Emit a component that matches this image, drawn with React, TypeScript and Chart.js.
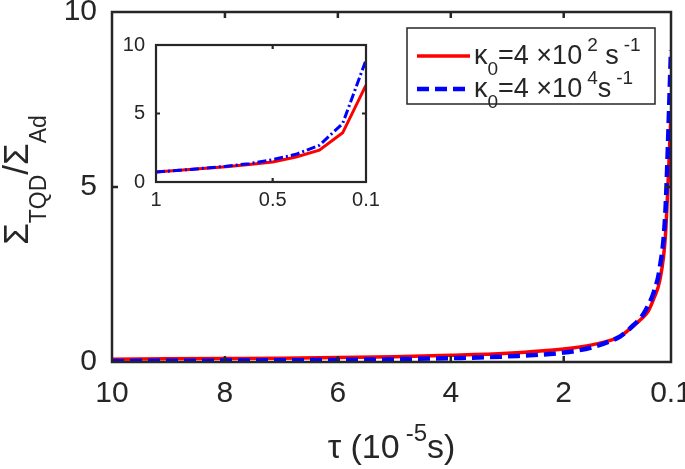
import React, { useEffect, useRef } from "react";
import { Chart, registerables } from "chart.js";

Chart.register(...registerables);

// ---- data ----
const tau = [10, 9, 8, 7, 6, 5, 4, 3, 2, 1.5, 1, 0.9, 0.8, 0.7, 0.6, 0.5, 0.4, 0.3, 0.2, 0.1];
const ratioKappa1e2 = [0.08, 0.09, 0.1, 0.11, 0.13, 0.15, 0.19, 0.25, 0.37, 0.49, 0.73, 0.85, 0.98, 1.12, 1.27, 1.46, 1.83, 2.32, 3.59, 7.07];
const ratioKappa1e4 = [0.03, 0.035, 0.04, 0.05, 0.06, 0.08, 0.11, 0.16, 0.27, 0.42, 0.73, 0.85, 1.0, 1.15, 1.34, 1.63, 2.02, 2.68, 4.27, 8.9];
const insetTauMax = 1;

const mainXTicks = [10, 8, 6, 4, 2, 0.1];
const mainYTicks = [0, 5, 10];
const insetXTicks = [1, 0.5, 0.1];
const insetYTicks = [0, 5, 10];

const seriesLabels = ["\u03ba_0=4 \u00d710^2 s^{-1}", "\u03ba_0=4 \u00d710^4s^{-1}"];
const xTitle = "\u03c4 (10^{-5}s)";
const yTitle = "\u03a3_{TQD}/\u03a3_{Ad}";

// ---- styles ----
const FAMILY = "'Liberation Sans', Arial, Helvetica, sans-serif";
const INK = "#262626";
const RED = "#ff0000";
const BLUE = "#0000ff";

type Seg = { t: string; kind: "n" | "sub" | "sup" };

function parseTex(s: string): Seg[] {
  const out: Seg[] = [];
  let buf = "";
  let i = 0;
  const flush = () => {
    if (buf) out.push({ t: buf, kind: "n" });
    buf = "";
  };
  while (i < s.length) {
    const c = s[i];
    if (c === "_" || c === "^") {
      flush();
      let t = "";
      if (s[i + 1] === "{") {
        const j = s.indexOf("}", i + 2);
        t = s.slice(i + 2, j);
        i = j + 1;
      } else {
        t = s[i + 1];
        i += 2;
      }
      out.push({ t, kind: c === "_" ? "sub" : "sup" });
    } else {
      buf += c;
      i++;
    }
  }
  flush();
  return out;
}

type RichStyle = { size: number; small: number; subDy: number; supDy: number; supGap: number };

function richWidth(ctx: CanvasRenderingContext2D, segs: Seg[], st: RichStyle) {
  let w = 0;
  for (const s of segs) {
    ctx.font = `${s.kind === "n" ? st.size : st.small}px ${FAMILY}`;
    w += ctx.measureText(s.t).width + (s.kind === "sup" ? st.supGap : 0);
  }
  return w;
}

function drawRich(ctx: CanvasRenderingContext2D, segs: Seg[], x: number, y: number, st: RichStyle) {
  let cx = x;
  ctx.textAlign = "left";
  ctx.textBaseline = "alphabetic";
  for (const s of segs) {
    ctx.font = `${s.kind === "n" ? st.size : st.small}px ${FAMILY}`;
    if (s.kind === "sup") cx += st.supGap;
    const dy = s.kind === "sub" ? st.subDy : s.kind === "sup" ? st.supDy : 0;
    ctx.fillText(s.t, cx, y + dy);
    cx += ctx.measureText(s.t).width;
  }
}

function framePlugin(id: string, lineWidth: number, tickLen: number) {
  return {
    id,
    afterDatasetsDraw(chart: any) {
      const { ctx, chartArea: a, scales } = chart;
      ctx.save();
      ctx.strokeStyle = INK;
      ctx.lineWidth = lineWidth;
      ctx.beginPath();
      const xs = scales.x;
      const ys = scales.y;
      for (const t of xs.ticks) {
        const px = xs.getPixelForValue(t.value);
        if (px <= a.left + 2 || px >= a.right - 2) continue;
        ctx.moveTo(px, a.bottom);
        ctx.lineTo(px, a.bottom - tickLen);
        ctx.moveTo(px, a.top);
        ctx.lineTo(px, a.top + tickLen);
      }
      for (const t of ys.ticks) {
        const py = ys.getPixelForValue(t.value);
        if (py <= a.top + 2 || py >= a.bottom - 2) continue;
        ctx.moveTo(a.left, py);
        ctx.lineTo(a.left + tickLen, py);
        ctx.moveTo(a.right, py);
        ctx.lineTo(a.right - tickLen, py);
      }
      ctx.stroke();
      ctx.strokeRect(a.left, a.top, a.right - a.left, a.bottom - a.top);
      ctx.restore();
    },
  };
}

const mainDecor = {
  id: "mainDecor",
  afterDraw(chart: any) {
    const { ctx, chartArea: a } = chart;
    ctx.save();
    ctx.fillStyle = INK;
    // x title
    const xs = parseTex(xTitle);
    const xst: RichStyle = { size: 34, small: 24, subDy: 8, supDy: -17, supGap: 6 };
    const xw = richWidth(ctx, xs, xst);
    drawRich(ctx, xs, (a.left + a.right) / 2 - xw / 2, 458, xst);
    // y title (rotated)
    const ysg = parseTex(yTitle);
    const yst: RichStyle = { size: 35, small: 23, subDy: 18, supDy: -14, supGap: 0 };
    const yw = richWidth(ctx, ysg, yst);
    ctx.save();
    ctx.translate(28, (a.top + a.bottom) / 2 - 7);
    ctx.rotate(-Math.PI / 2);
    drawRich(ctx, ysg, -yw / 2, 0, yst);
    ctx.restore();
    // legend
    const bx = 407, by = 28, bw = 248, bh = 76;
    ctx.fillStyle = "#ffffff";
    ctx.fillRect(bx, by, bw, bh);
    ctx.strokeStyle = INK;
    ctx.lineWidth = 1.5;
    ctx.strokeRect(bx, by, bw, bh);
    const rows = [56, 89];
    const lst: RichStyle = { size: 27, small: 19, subDy: 11, supDy: -13, supGap: 5 };
    [0, 1].forEach((di, r) => {
      const ds = chart.data.datasets[di];
      const y = rows[r];
      ctx.save();
      ctx.strokeStyle = ds.borderColor;
      ctx.lineWidth = ds.borderWidth;
      ctx.setLineDash(ds.borderDash || []);
      ctx.beginPath();
      ctx.moveTo(417, y);
      ctx.lineTo(470, y);
      ctx.stroke();
      ctx.restore();
      ctx.fillStyle = INK;
      drawRich(ctx, parseTex(ds.label), 474, y + 8, lst);
    });
    ctx.restore();
  },
};

function tickFmt(v: any) {
  return String(Number(v));
}

export default function App() {
  const mainRef = useRef<HTMLCanvasElement>(null);
  const insetRef = useRef<HTMLCanvasElement>(null);

  useEffect(() => {
    document.body.style.margin = "0";
    const mainData = {
      datasets: [
        {
          label: seriesLabels[0],
          data: tau.map((t, i) => ({ x: t, y: ratioKappa1e2[i] })),
          borderColor: RED,
          borderWidth: 3.5,
          borderDash: [] as number[],
          pointRadius: 0,
          cubicInterpolationMode: "monotone",
          order: 2,
        },
        {
          label: seriesLabels[1],
          data: tau.map((t, i) => ({ x: t, y: ratioKappa1e4[i] })),
          borderColor: BLUE,
          borderWidth: 4.5,
          borderDash: [12, 6],
          pointRadius: 0,
          cubicInterpolationMode: "monotone",
          order: 1,
        },
      ],
    };
    const tickFont = { family: FAMILY, size: 30 };
    const main = new Chart(mainRef.current!, {
      type: "line",
      data: mainData as any,
      options: {
        animation: false,
        responsive: false,
        devicePixelRatio: 1,
        layout: { padding: { top: 12, right: 14, left: 0, bottom: 0 } },
        plugins: { legend: { display: false }, tooltip: { enabled: false } },
        scales: {
          x: {
            type: "linear",
            reverse: true,
            min: 0.1,
            max: 10,
            grid: { display: false, drawTicks: false },
            border: { display: false },
            ticks: { font: tickFont, color: INK, padding: 14, maxRotation: 0, autoSkip: false, callback: tickFmt },
            afterBuildTicks: (s: any) => {
              s.ticks = mainXTicks.map((v) => ({ value: v }));
            },
            afterFit: (s: any) => {
              s.height = 107;
              s.paddingLeft = 0;
              s.paddingRight = 0;
            },
          },
          y: {
            type: "linear",
            min: 0,
            max: 10,
            grid: { display: false, drawTicks: false },
            border: { display: false },
            ticks: { font: tickFont, color: INK, padding: 15, autoSkip: false, callback: tickFmt },
            afterBuildTicks: (s: any) => {
              s.ticks = mainYTicks.map((v) => ({ value: v }));
            },
            afterFit: (s: any) => {
              s.width = 112;
              s.paddingTop = 0;
              s.paddingBottom = 0;
            },
          },
        },
      } as any,
      plugins: [framePlugin("mainFrame", 2.5, 6), mainDecor],
    });

    const insetIdx = tau.map((t, i) => i).filter((i) => tau[i] <= insetTauMax);
    const insetFont = { family: FAMILY, size: 20 };
    const inset = new Chart(insetRef.current!, {
      type: "line",
      data: {
        datasets: [
          {
            label: seriesLabels[0],
            data: insetIdx.map((i) => ({ x: tau[i], y: ratioKappa1e2[i] })),
            borderColor: RED,
            borderWidth: 3,
            pointRadius: 0,
            tension: 0,
            order: 2,
          },
          {
            label: seriesLabels[1],
            data: insetIdx.map((i) => ({ x: tau[i], y: ratioKappa1e4[i] })),
            borderColor: BLUE,
            borderWidth: 3,
            borderDash: [9, 3, 2, 3],
            pointRadius: 0,
            tension: 0,
            order: 1,
          },
        ],
      } as any,
      options: {
        animation: false,
        responsive: false,
        devicePixelRatio: 1,
        layout: { padding: { top: 15, right: 14, left: 0, bottom: 0 } },
        plugins: { legend: { display: false }, tooltip: { enabled: false } },
        scales: {
          x: {
            type: "linear",
            reverse: true,
            min: 0.1,
            max: 1,
            grid: { display: false, drawTicks: false },
            border: { display: false },
            ticks: { font: insetFont, color: INK, padding: 6, maxRotation: 0, autoSkip: false, callback: tickFmt },
            afterBuildTicks: (s: any) => {
              s.ticks = insetXTicks.map((v) => ({ value: v }));
            },
            afterFit: (s: any) => {
              s.height = 33;
              s.paddingLeft = 0;
              s.paddingRight = 0;
            },
          },
          y: {
            type: "linear",
            min: 0,
            max: 10,
            grid: { display: false, drawTicks: false },
            border: { display: false },
            ticks: { font: insetFont, color: INK, padding: 11, autoSkip: false, callback: tickFmt },
            afterBuildTicks: (s: any) => {
              s.ticks = insetYTicks.map((v) => ({ value: v }));
            },
            afterFit: (s: any) => {
              s.width = 46;
              s.paddingTop = 0;
              s.paddingBottom = 0;
            },
          },
        },
      } as any,
      plugins: [framePlugin("insetFrame", 2.2, 4)],
    });

    return () => {
      main.destroy();
      inset.destroy();
    };
  }, []);

  return (
    <div style={{ position: "relative", width: 685, height: 469, background: "#ffffff" }}>
      <canvas ref={mainRef} width={685} height={469} style={{ position: "absolute", left: 0, top: 0 }} />
      <canvas ref={insetRef} width={270} height={185} style={{ position: "absolute", left: 110, top: 30 }} />
    </div>
  );
}
